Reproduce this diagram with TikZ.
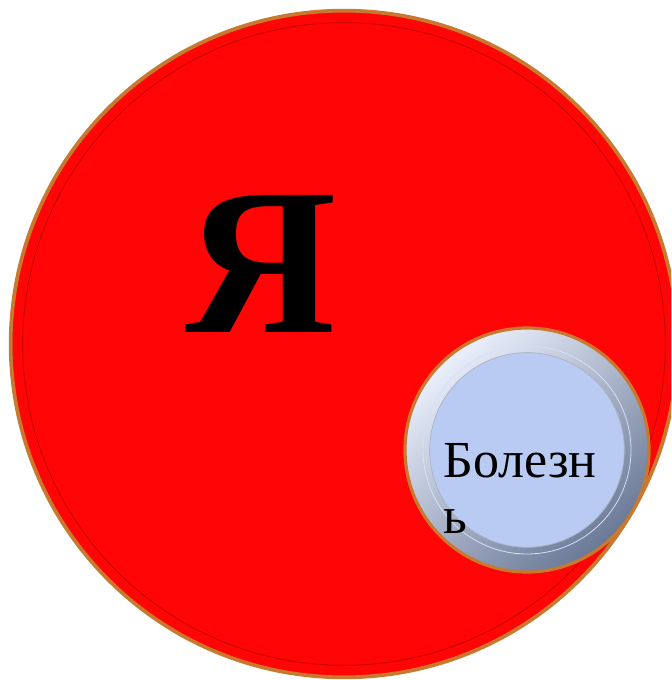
\documentclass[tikz,border=0pt]{standalone}
\usepackage{fontspec}
\setmainfont{Liberation Serif}
\usetikzlibrary{positioning,shadings}

\definecolor{selfred}{HTML}{FF0505}
\definecolor{rimbrown}{HTML}{C8782F}
\definecolor{pillblue}{HTML}{B9CBF3}
\definecolor{pillshade}{HTML}{56647F}

\begin{document}
\begin{tikzpicture}[
  x=0.75pt, y=-0.75pt,
  disc/.style={circle, inner sep=0pt, outer sep=0pt},
  selfdisc/.style={disc, fill=selfred, draw=rimbrown, line width=2.8pt, minimum size=500pt},
  selfrim/.style={disc, draw=red!55!black, line width=0.5pt, draw opacity=0.6, minimum size=482pt},
  pilldisc/.style={disc, draw=rimbrown, line width=2.4pt, minimum size=183pt,
    shading=axis, top color=white!70!pillblue, middle color=pillblue!95!white,
    bottom color=pillshade!80!pillblue, shading angle=40},
  pillband/.style={disc, draw=white!40!pillblue, line width=0.6pt, minimum size=156pt},
  pillface/.style={disc, fill=pillblue, draw=pillshade!50, line width=0.5pt, minimum size=146pt},
  bigletter/.style={font=\fontsize{157}{157}\selectfont\bfseries},
  pilltext/.style={font=\fontsize{39}{42}\selectfont, align=left, inner sep=0pt},
]
\useasboundingbox (0,0) rectangle (671,680);
\clip (0,0) rectangle (671,680);

% the big disc
\node[selfdisc] (self) at (344,344) {};
\node[selfrim] (selfring) at (self.center) {};
\node[bigletter, anchor=base] (me) at (261,332) {Я};

% the small disc
\node[pilldisc] (pill) at (527,450) {};
\node[pillband] (pillring) at (pill.center) {};
\node[pillface] (pillinner) at (pill.center) {};
\node[pilltext, anchor=base west] (illness) at (443,533) {Болезн\\ь};

\end{tikzpicture}
\end{document}
